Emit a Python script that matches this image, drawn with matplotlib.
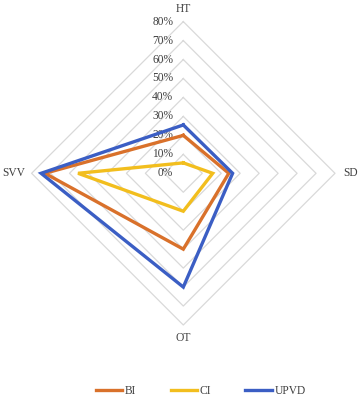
import numpy as np
import matplotlib
matplotlib.use("Agg")
import matplotlib.pyplot as plt

categories = ["HT", "SD", "OT", "SVV"]
series_names = ["BI", "CI", "UPVD"]
bi_values = [20, 24, 40, 73]
ci_values = [5.5, 15.5, 20, 55.5]
upvd_values = [25.5, 26, 60, 75]
tick_values = [0, 10, 20, 30, 40, 50, 60, 70, 80]
tick_labels = ["0%", "10%", "20%", "30%", "40%", "50%", "60%", "70%", "80%"]
colors = ["#D9712B", "#F2BE1E", "#3B5EC4"]

plt.rcParams['font.family'] = ['Liberation Serif', 'DejaVu Serif']

fig = plt.figure(figsize=(3.61, 4.0), dpi=100)
ax = fig.add_axes([0, 0, 1, 1])
ax.set_axis_off()

# pixel mapping: center (183.3, 173.3) from top-left, 80% -> 151.7 px
ppu = 151.7 / 80.0
cx, cy = 183.3, 173.3
ax.set_xlim(-cx / ppu, (361 - cx) / ppu)
ax.set_ylim(-(400 - cy) / ppu, cy / ppu)

angles = np.array([90, 0, -90, 180]) * np.pi / 180
dx = np.round(np.cos(angles), 9)
dy = np.round(np.sin(angles), 9)

grid_color = "#D9D9D9"
for t in tick_values[1:]:
    xs = np.append(dx * t, dx[0] * t)
    ys = np.append(dy * t, dy[0] * t)
    ax.plot(xs, ys, color=grid_color, lw=0.9, zorder=1)
rmax = tick_values[-1]

text_color = "#404040"
off = 10 / ppu
for t, lab in zip(tick_values, tick_labels):
    ax.text(-off, t, lab, ha="right", va="center", fontsize=8.3, color=text_color, zorder=2)

lab_off = 13 / ppu
for i, c in enumerate(categories):
    r = rmax + lab_off
    ha = "center"
    if dx[i] > 0:
        ha = "left"; r = rmax + 8 / ppu
    elif dx[i] < 0:
        ha = "right"; r = rmax + 6 / ppu
    ax.text(dx[i] * r, dy[i] * r, c, ha=ha, va="center", fontsize=8.3, color=text_color)

handles = []
for name, vals, col in zip(series_names, [bi_values, ci_values, upvd_values], colors):
    v = np.array(vals)
    xs = np.append(dx * v, dx[0] * v[0])
    ys = np.append(dy * v, dy[0] * v[0])
    h, = ax.plot(xs, ys, color=col, lw=2.4, solid_joinstyle="miter", zorder=3, label=name)
    handles.append(h)

fig.legend(handles=handles, labels=series_names, loc="center", bbox_to_anchor=(0.556, 9 / 400),
           ncol=3, frameon=False, fontsize=8.3, handlelength=2.3, handletextpad=0.2,
           columnspacing=3.0, labelcolor=text_color)

fig.savefig("out.png", dpi=100)
